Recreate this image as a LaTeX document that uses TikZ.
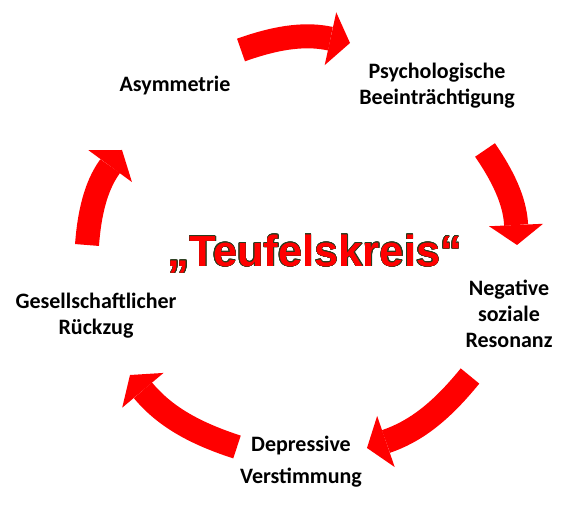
\documentclass[tikz,border=0pt]{standalone}
\usepackage{fontspec}
\setmainfont{Carlito}
\newfontfamily\titlefont{Liberation Sans}
\usepackage{contour}
\usetikzlibrary{arrows.meta}
\definecolor{rimdark}{RGB}{40,60,30}
\contourlength{0.4pt}

\begin{document}
\begin{tikzpicture}[x=1pt,y=1pt,>={Triangle[length=20pt,width=54pt,line width=0pt]},
                    bigarrow/.style={->,color=red,line width=24pt},
                    stage/.style={font=\fontsize{22}{26}\selectfont\bfseries,align=center}]
                \useasboundingbox (0,0) rectangle (576,525);
                \node[stage] (asym)   at (175,439) {Asymmetrie};
                \node[stage] (psych)  at (437,439) {Psychologische\\Beeinträchtigung};
                \node[stage] (neg)    at (509,211) {Negative\\soziale\\Resonanz};
                \node[stage,font=\fontsize{22}{32}\selectfont\bfseries] (depr) at (301,63) {Depressive\\Verstimmung};
                \node[stage] (rueck)  at (96,209)  {Gesellschaftlicher\\Rückzug};
                \node[font=\titlefont\fontsize{43.5}{44}\selectfont\bfseries,text=red] (kreis) at (315,271)
                    {\contour{rimdark}{„Teufelskreis“}};
                % arrow ends
                \coordinate (t1) at (241,475); \coordinate (h1) at (350,482);
                \coordinate (t2) at (485,375); \coordinate (h2) at (517,280);
                \coordinate (t3) at (470,149); \coordinate (h3) at (367,77);
                \coordinate (t4) at (237,78);  \coordinate (h4) at (130,150);
                \coordinate (t5) at (87,280);  \coordinate (h5) at (122,375);
                \path
                (t1) edge [bigarrow,bend left=16] (h1)
                (t2) edge [bigarrow,bend left=16] (h2)
                (t3) edge [bigarrow,bend left=16] (h3)
                (t4) edge [bigarrow,bend left=16] (h4)
                (t5) edge [bigarrow,bend left=16] (h5);
\end{tikzpicture}
\end{document}
